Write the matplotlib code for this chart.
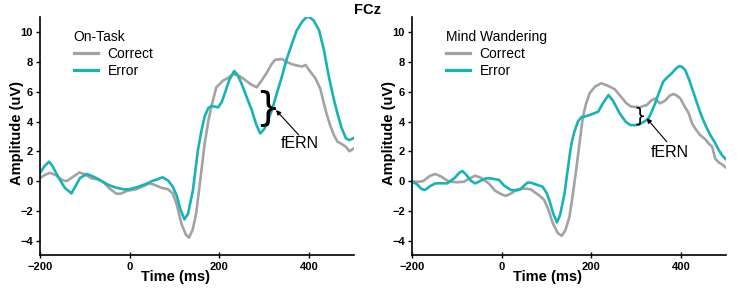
import matplotlib
matplotlib.use("Agg")
import matplotlib.pyplot as plt

plt.rcParams['font.family'] = ['Liberation Sans', 'DejaVu Sans']

# ---------------- data ----------------
# Left panel: On-Task
ot_correct_t = [-200, -190, -178, -165, -150, -140, -128, -112, -100, -85, -70, -58, -45, -30, -20, -5,
                13, 30, 43, 55, 70, 85, 96, 105, 115, 125, 132, 140, 148, 157, 167, 175, 182, 193,
                208, 220, 231, 245, 257, 270, 283, 294, 306, 315, 324, 339, 350, 362, 375, 384, 392,
                399, 414, 425, 433, 441, 448, 455, 463, 472, 482, 490, 500]
ot_correct_v = [0.2, 0.4, 0.55, 0.4, 0.05, 0.0, 0.25, 0.58, 0.45, 0.18, 0.1, -0.1, -0.5, -0.85, -0.85, -0.65,
                -0.56, -0.35, -0.16, -0.25, -0.45, -0.55, -0.83, -1.6, -2.85, -3.6, -3.8, -3.3, -2.2, 0.0,
                2.5, 4.0, 5.0, 6.3, 6.75, 6.95, 7.2, 7.05, 6.8, 6.5, 6.3, 6.75, 7.3, 7.8, 8.15, 8.2, 8.0,
                7.85, 7.75, 7.7, 7.8, 7.5, 6.9, 6.2, 5.2, 4.3, 3.65, 3.1, 2.65, 2.5, 2.3, 2.0, 2.2]

ot_error_t = [-200, -190, -180, -172, -160, -145, -130, -120, -111, -96, -85, -73, -60, -47, -30, -13,
              0, 20, 40, 50, 61, 73, 85, 96, 105, 113, 122, 130, 141, 152, 160, 167, 175, 182, 190,
              197, 205, 212, 222, 233, 241, 249, 260, 272, 282, 291, 300, 310, 317, 328, 339, 350,
              362, 372, 384, 392, 399, 410, 422, 433, 444, 455, 463, 472, 482, 490, 500]
ot_error_v = [0.55, 1.0, 1.3, 1.0, 0.3, -0.45, -0.83, -0.3, 0.2, 0.47, 0.35, 0.18, -0.05, -0.27, -0.45, -0.56,
              -0.55, -0.38, -0.15, 0.0, 0.11, 0.25, 0.05, -0.38, -1.0, -1.9, -2.58, -2.2, -0.6, 2.08,
              3.4, 4.33, 4.9, 5.04, 5.0, 4.95, 5.3, 5.9, 6.8, 7.4, 7.1, 6.57, 5.7, 4.77, 3.8, 3.2, 3.5,
              4.2, 4.77, 5.9, 7.0, 8.2, 9.26, 10.1, 10.7, 10.95, 11.05, 10.8, 10.15, 8.8, 7.0, 5.5,
              4.55, 3.6, 2.87, 2.75, 2.9]

# Right panel: Mind Wandering
mw_correct_t = [-200, -185, -175, -160, -148, -135, -118, -100, -85, -70, -59, -45, -29, -15, 0, 9, 20,
                35, 50, 65, 72, 85, 95, 105, 114, 125, 134, 142, 151, 158, 166, 174, 181, 188, 196,
                208, 222, 237, 252, 265, 278, 289, 300, 308, 316, 323, 333, 342, 353, 364, 375, 383,
                390, 398, 408, 417, 424, 431, 442, 454, 462, 469, 476, 484, 492, 500]
mw_correct_v = [-0.04, -0.05, 0.0, 0.35, 0.47, 0.3, -0.04, -0.08, -0.05, 0.2, 0.36, 0.2, -0.16, -0.65,
                -0.9, -1.0, -0.85, -0.56, -0.5, -0.56, -0.72, -1.0, -1.28, -2.0, -2.85, -3.5, -3.68,
                -3.3, -2.4, -1.0, 0.74, 2.7, 4.33, 5.2, 5.9, 6.35, 6.57, 6.4, 6.17, 5.7, 5.22, 5.0,
                4.98, 4.95, 5.05, 5.1, 5.4, 5.55, 5.22, 5.4, 5.75, 5.85, 5.75, 5.56, 5.0, 4.55, 3.9,
                3.54, 3.1, 2.8, 2.5, 2.31, 1.5, 1.25, 1.1, 0.9]

mw_error_t = [-200, -190, -178, -171, -160, -148, -135, -122, -105, -95, -88, -80, -68, -59, -45, -35,
              -25, -6, 5, 20, 35, 42, 50, 58, 65, 78, 91, 100, 106, 115, 123, 130, 140, 151, 156, 162,
              170, 177, 187, 196, 206, 215, 225, 238, 248, 263, 276, 286, 296, 308, 318, 327, 335,
              342, 350, 360, 370, 379, 388, 396, 403, 409, 418, 428, 437, 446, 455, 465, 475, 484,
              492, 500]
mw_error_v = [-0.04, -0.2, -0.55, -0.6, -0.35, -0.16, -0.15, -0.16, 0.2, 0.55, 0.67, 0.45, 0.0, -0.16,
              0.05, 0.18, 0.18, 0.07, -0.3, -0.6, -0.62, -0.55, -0.3, -0.1, -0.11, -0.25, -0.38, -0.8,
              -1.28, -2.2, -2.78, -2.3, -0.83, 1.63, 2.6, 3.32, 4.0, 4.28, 4.35, 4.44, 4.55, 4.66,
              5.2, 5.78, 5.4, 4.55, 4.0, 3.77, 3.75, 3.83, 4.0, 4.2, 4.7, 5.22, 5.9, 6.68, 7.0, 7.24,
              7.55, 7.73, 7.65, 7.46, 6.8, 5.9, 5.1, 4.33, 3.7, 3.09, 2.6, 2.08, 1.7, 1.46]

panel_titles = ["On-Task", "Mind Wandering"]
series_labels = ["Correct", "Error"]
x_ticks = [-200, 0, 200, 400]
y_ticks = [-4, -2, 0, 2, 4, 6, 8, 10]

# fERN annotation geometry (data coords): brace centre x, brace y-range, arrow head, arrow tail, text
fern_left = dict(bx=308, by0=3.63, by1=6.25, head=(326, 4.77), tail=(377, 3.09), txt=(380, 2.5))
fern_right = dict(bx=308, by0=3.77, by1=4.97, head=(323, 4.22), tail=(368, 2.64), txt=(375, 1.95))

GRAY = "#a3a3a3"
CYAN = "#17b3b6"

fig = plt.figure(figsize=(7.44, 2.99), dpi=100)
axL = fig.add_axes([0.0538, 0.1458, 0.422, 0.796])
axR = fig.add_axes([0.5538, 0.1458, 0.422, 0.796])

panels = [
    (axL, ot_correct_t, ot_correct_v, ot_error_t, ot_error_v, panel_titles[0], fern_left, 28),
    (axR, mw_correct_t, mw_correct_v, mw_error_t, mw_error_v, panel_titles[1], fern_right, 14),
]

for ax, ct, cv, et, ev, title, fern, bsize in panels:
    lc, = ax.plot(ct, cv, color=GRAY, lw=1.9, solid_joinstyle='round', label=series_labels[0])
    le, = ax.plot(et, ev, color=CYAN, lw=1.9, solid_joinstyle='round', label=series_labels[1])
    ax.set_xlim(-200, 500)
    ax.set_ylim(-5, 11)
    ax.set_xticks(x_ticks)
    ax.set_yticks(y_ticks)
    for s in ['top', 'right']:
        ax.spines[s].set_visible(False)
    for s in ['left', 'bottom']:
        ax.spines[s].set_linewidth(1.2)
    ax.tick_params(axis='y', direction='out', length=3, width=1, pad=2, labelsize=8)
    ax.tick_params(axis='x', direction='inout', length=4, width=1, pad=3, labelsize=8)
    for lab in ax.get_xticklabels() + ax.get_yticklabels():
        lab.set_fontweight('bold')
    ax.set_xlabel("Time (ms)", fontsize=10.5, fontweight='bold')
    ax.set_ylabel("Amplitude (uV)", fontsize=10.5, fontweight='bold')
    ax.xaxis.set_label_coords(0.433, -0.06)
    ax.yaxis.set_label_coords(-0.05, 0.514)

    leg = ax.legend(handles=[lc, le], title=title, loc='upper left',
                    bbox_to_anchor=(0.085, 0.975), frameon=False, fontsize=10,
                    title_fontsize=10, borderpad=0, labelspacing=0.2,
                    handlelength=1.75, handletextpad=0.7, alignment='left')
    for h in leg.legend_handles:
        h.set_linewidth(2.3)

    # brace
    ax.text(fern['bx'], (fern['by0'] + fern['by1']) / 2, "}", fontsize=bsize,
            ha='center', va='center', color='black', family='DejaVu Sans')
    ax.annotate("", xy=fern['head'], xytext=fern['tail'],
                arrowprops=dict(arrowstyle='-|>', color='black', lw=0.8,
                                mutation_scale=7, shrinkA=0, shrinkB=0))
    ax.text(fern['txt'][0], fern['txt'][1], "fERN", fontsize=11.5, ha='center', va='center')

fig.text(0.4946, 0.967, "FCz", fontsize=10.5, fontweight='bold', ha='center', va='center')

fig.savefig("out.png", dpi=100)
